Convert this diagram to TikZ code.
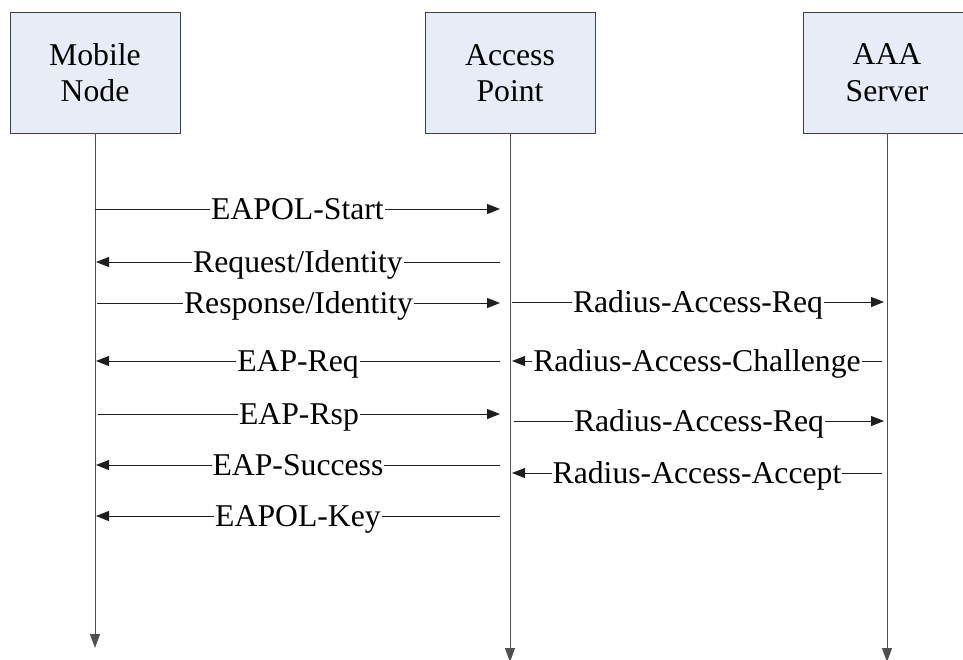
\documentclass[tikz,border=0pt]{standalone}
\usepackage{fontspec}
\setmainfont{Liberation Serif}
\usetikzlibrary{arrows.meta}

\definecolor{boxfill}{RGB}{231,236,247}
\definecolor{boxline}{RGB}{64,64,64}
\definecolor{lifeline}{RGB}{80,80,80}
\definecolor{msgline}{RGB}{30,30,30}

\tikzset{
  party/.style={draw=boxline, line width=1.3pt, fill=boxfill,
    minimum width=170pt, minimum height=121pt, inner sep=0pt, anchor=north west},
  partytext/.style={font=\fontsize{31.7}{36}\selectfont, anchor=base, inner sep=0pt},
  life/.style={draw=lifeline, line width=1pt, -{Triangle[length=14pt,width=10pt]}},
  msg/.style={draw=msgline, line width=1pt, -{Triangle[length=13pt,width=10pt]}},
  lbl/.style={font=\fontsize{31.7}{36}\selectfont, fill=white, inner xsep=1pt,
    inner ysep=0pt, anchor=base, yshift=-10.5pt, midway}
}

\begin{document}
\begin{tikzpicture}[x=1pt, y=-1pt]
  \useasboundingbox (0,0) rectangle (963,659);
  \clip (0,0) rectangle (963,659);

  % participants
  \node[party] (mn)  at (10,12)  {};
  \node[party] (ap)  at (425,12) {};
  \node[party] (aaa) at (803,12) {};

  \node[partytext] (mn1)  at (95,65)   {Mobile};
  \node[partytext] (mn2)  at (95,101)  {Node};
  \node[partytext] (ap1)  at (510,65)  {Access};
  \node[partytext] (ap2)  at (510,101) {Point};
  \node[partytext] (aaa1) at (887,64)  {AAA};
  \node[partytext] (aaa2) at (887,101) {Server};

  % lifelines
  \coordinate (mnTop)  at (95,133);
  \coordinate (apTop)  at (510,133);
  \coordinate (aaaTop) at (887,133);
  \coordinate (mnEnd)  at (95,648);
  \coordinate (apEnd)  at (510,662);
  \coordinate (aaaEnd) at (887,662);
  \draw[life] (mnTop) -- (mnEnd);
  \draw[life] (apTop) -- (apEnd);
  \draw[life] (aaaTop) -- (aaaEnd);

  % message end points
  \coordinate (a1) at (95,209);  \coordinate (b1) at (500,209);
  \coordinate (a2) at (500,262); \coordinate (b2) at (96,262);
  \coordinate (a3) at (97,303);  \coordinate (b3) at (500,303);
  \coordinate (a4) at (512,302); \coordinate (b4) at (884,302);
  \coordinate (a5) at (500,361); \coordinate (b5) at (96,361);
  \coordinate (a6) at (882,361); \coordinate (b6) at (512,361);
  \coordinate (a7) at (98,414);  \coordinate (b7) at (500,414);
  \coordinate (a8) at (514,421); \coordinate (b8) at (884,421);
  \coordinate (a9) at (500,465); \coordinate (b9) at (96,465);
  \coordinate (a10) at (882,473); \coordinate (b10) at (512,473);
  \coordinate (a11) at (500,516); \coordinate (b11) at (96,516);

  % messages
  \draw[msg] (a1) -- node[lbl] (l1) {EAPOL-Start} (b1);
  \draw[msg] (a2) -- node[lbl] (l2) {Request/Identity} (b2);
  \draw[msg] (a3) -- node[lbl] (l3) {Response/Identity} (b3);
  \draw[msg] (a4) -- node[lbl] (l4) {Radius-Access-Req} (b4);
  \draw[msg] (a5) -- node[lbl] (l5) {EAP-Req} (b5);
  \draw[msg] (a6) -- node[lbl] (l6) {Radius-Access-Challenge} (b6);
  \draw[msg] (a7) -- node[lbl] (l7) {EAP-Rsp} (b7);
  \draw[msg] (a8) -- node[lbl] (l8) {Radius-Access-Req} (b8);
  \draw[msg] (a9) -- node[lbl] (l9) {EAP-Success} (b9);
  \draw[msg] (a10) -- node[lbl] (l10) {Radius-Access-Accept} (b10);
  \draw[msg] (a11) -- node[lbl] (l11) {EAPOL-Key} (b11);
\end{tikzpicture}
\end{document}
